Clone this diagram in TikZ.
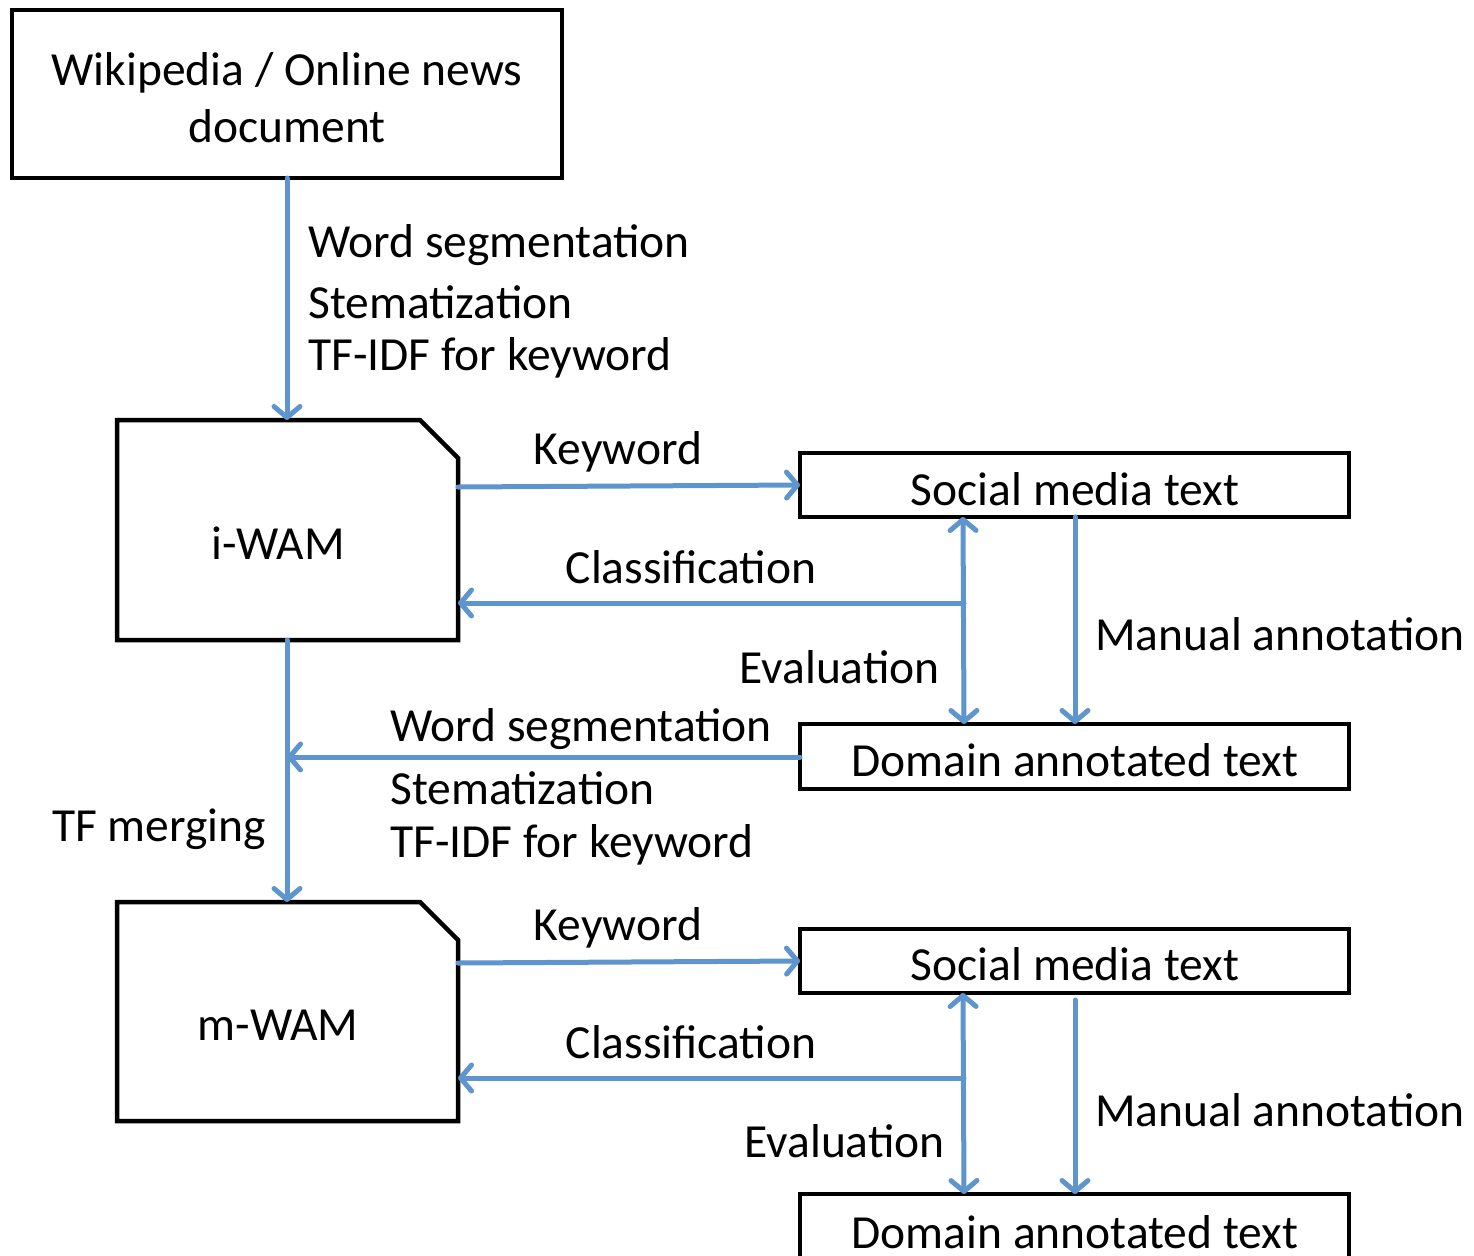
\documentclass[tikz,border=0pt]{standalone}
\usepackage{fontspec}
\setmainfont{Carlito}
\usetikzlibrary{arrows.meta}
\definecolor{flowblue}{HTML}{5E95CD}
\tikzset{
  box/.style={draw=black, line width=4.5pt, line join=miter},
  barb/.tip={Straight Barb[length=11pt, width=26pt, line width=5pt, round]},
  flow/.style={draw=flowblue, line width=5pt, line cap=round, -barb},
  both/.style={draw=flowblue, line width=5pt, line cap=round, barb-barb},
  lbl/.style={inner sep=0pt, font=\fontsize{47.5}{57}\selectfont},
  lblw/.style={lbl, anchor=west},
}
\begin{document}
\begin{tikzpicture}[x=1pt, y=-1pt]
\useasboundingbox (0,0) rectangle (1474,1255);

% source document
\draw[box] (12,10) rectangle (562,178);
\node[lbl, align=center] (src) at (287,98) {Wikipedia / Online news\\document};
\coordinate (srcb) at (287,178);

% initial model
\draw[box] (117,420) -- (420,420) -- (458,458) -- (458,640) -- (117,640) -- cycle;
\node[lbl] (iwam) at (278,543) {i-WAM};
\coordinate (iwamt) at (287,420);
\coordinate (iwamb) at (287,640);

\draw[flow] (srcb) -- (iwamt);
\node[lblw] (p1) at (308,245) {Word segmentation};
\node[lblw] (p2) at (308,302) {Stematization};
\node[lblw] (p3) at (308,358) {TF-IDF for keyword};

% first social media / annotation pair
\draw[box] (800,453) rectangle (1349,517);
\node[lbl] (smt1) at (1075,489) {Social media text};
\draw[box] (800,724) rectangle (1349,789);
\node[lbl] (dat1) at (1075,760) {Domain annotated text};

\coordinate (kw1a) at (458,487);
\coordinate (kw1b) at (800,485);
\draw[flow] (kw1a) -- (kw1b);
\node[lbl] (kw1) at (618,452) {Keyword};

\coordinate (cl1a) at (964,603);
\coordinate (cl1b) at (458,603);
\draw[flow] (cl1a) -- (cl1b);
\node[lbl] (cl1) at (691,567) {Classification};

\coordinate (ev1a) at (963,517);
\coordinate (ev1b) at (964,724);
\draw[both] (ev1a) -- (ev1b);
\node[lbl, anchor=east] (ev1) at (940,667) {Evaluation};

\coordinate (ma1a) at (1075,517);
\coordinate (ma1b) at (1075,724);
\draw[flow] (ma1a) -- (ma1b);
\node[lblw] (ma1) at (1095,634) {Manual annotation};

% feedback from annotated text into the merge line
\coordinate (dat1l) at (800,757);
\coordinate (mrg) at (287,757);
\draw[flow] (dat1l) -- (mrg);
\node[lblw] (q1) at (390,729) {Word segmentation};
\node[lblw] (q2) at (390,788) {Stematization};
\node[lblw] (q3) at (390,845) {TF-IDF for keyword};

% merged model
\draw[box] (117,902) -- (420,902) -- (458,940) -- (458,1121) -- (117,1121) -- cycle;
\node[lbl] (mwam) at (278,1025) {m-WAM};
\coordinate (mwamt) at (287,902);

\draw[flow] (iwamb) -- (mwamt);
\node[lbl, anchor=east] (tfm) at (266,829) {TF merging};

% second social media / annotation pair (lower box runs past the page edge)
\draw[box] (800,929) rectangle (1349,993);
\node[lbl] (smt2) at (1075,964) {Social media text};
\draw[box] (800,1194) rectangle (1349,1275);
\node[lbl] (dat2) at (1075,1232) {Domain annotated text};

\coordinate (kw2a) at (458,963);
\coordinate (kw2b) at (800,961);
\draw[flow] (kw2a) -- (kw2b);
\node[lbl] (kw2) at (618,928) {Keyword};

\coordinate (cl2a) at (964,1078);
\coordinate (cl2b) at (458,1078);
\draw[flow] (cl2a) -- (cl2b);
\node[lbl] (cl2) at (691,1042) {Classification};

\coordinate (ev2a) at (963,993);
\coordinate (ev2b) at (964,1194);
\draw[both] (ev2a) -- (ev2b);
\node[lbl, anchor=east] (ev2) at (945,1141) {Evaluation};

\coordinate (ma2a) at (1075,1000);
\coordinate (ma2b) at (1075,1194);
\draw[flow] (ma2a) -- (ma2b);
\node[lblw] (ma2) at (1095,1110) {Manual annotation};
\end{tikzpicture}
\end{document}
